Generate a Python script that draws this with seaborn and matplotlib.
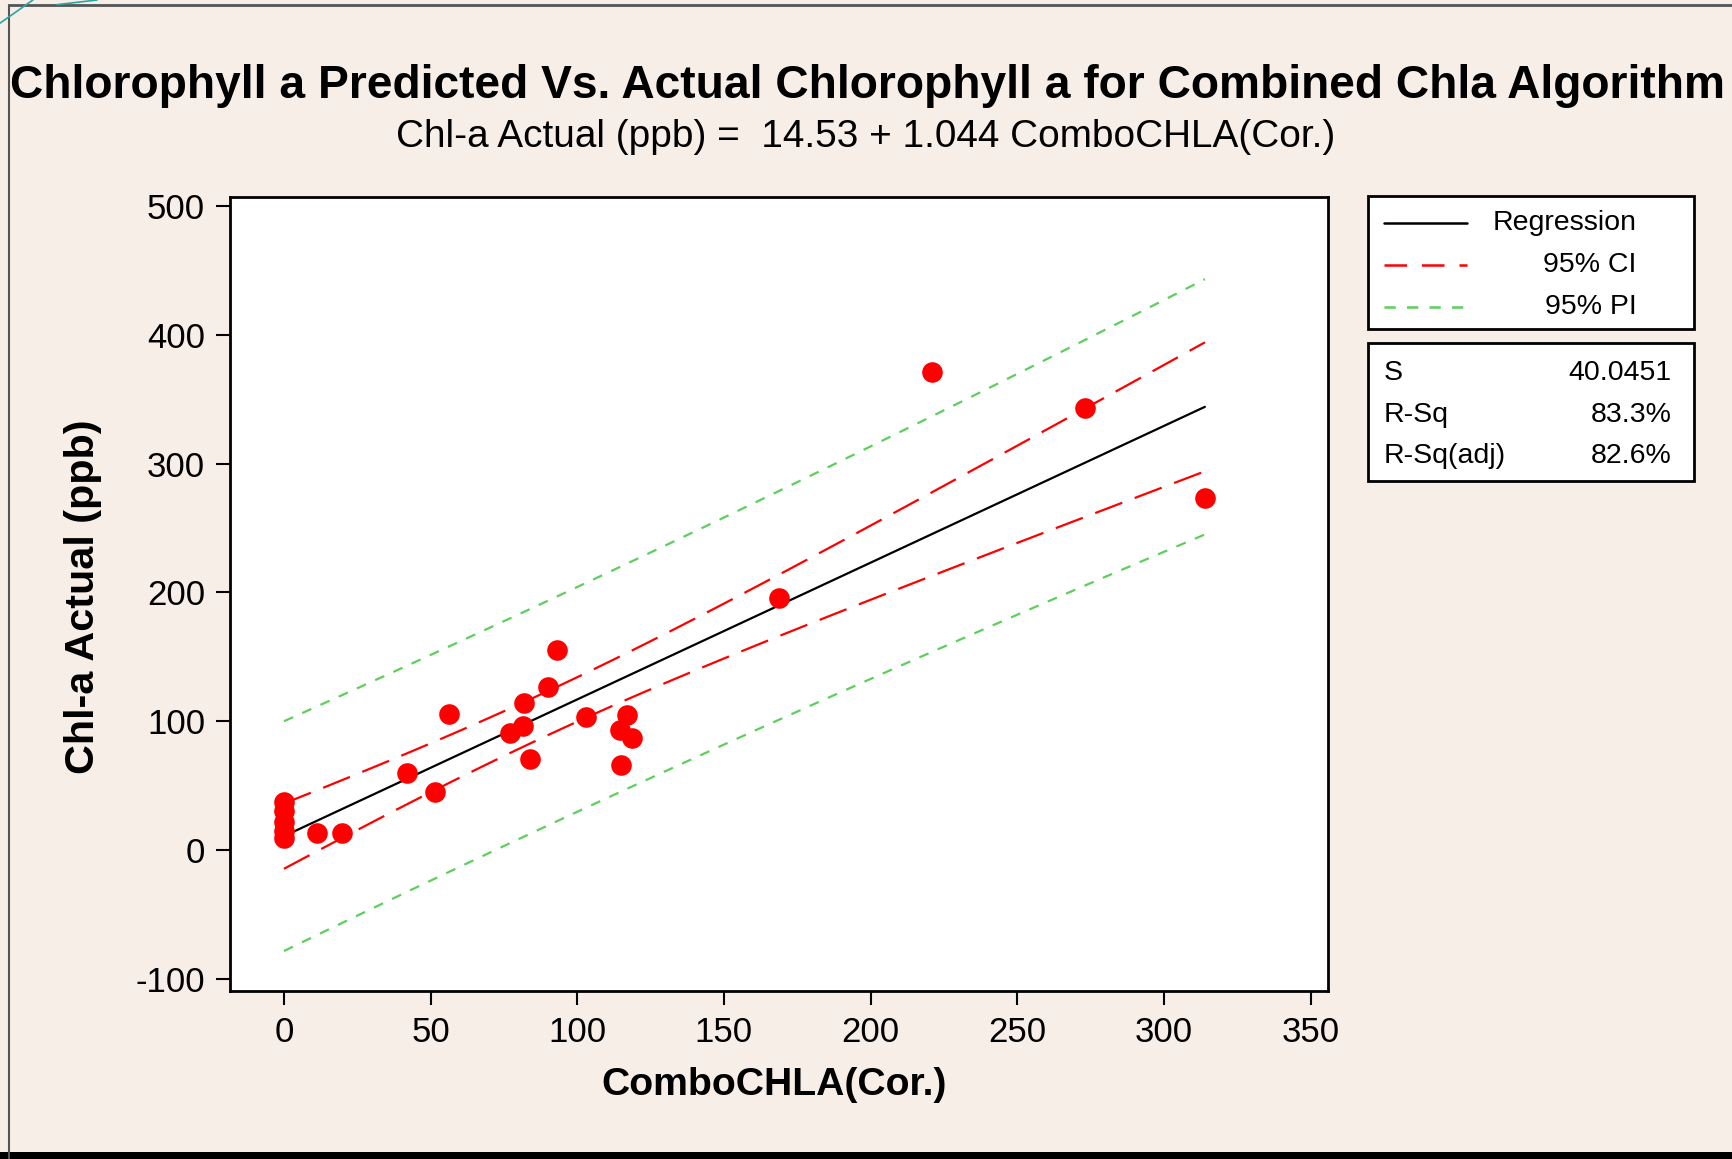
import numpy as np
import pandas as pd
import matplotlib.pyplot as plt
import seaborn as sns
from matplotlib.lines import Line2D
from matplotlib.patches import Rectangle

# points
combo_x = [0, 0, 0, 0, 0, 11.3, 19.8, 41.9, 51.5, 56.3, 77, 81.5, 82, 84, 90, 93,
           103, 114.5, 115, 117, 118.6, 168.8, 220.9, 273, 314]
chla_y = [37, 30, 22, 15, 9, 13, 13, 60, 45, 106, 91, 96, 114, 71, 127, 155,
          103, 93, 66, 105, 87, 196, 371, 343, 273]

legend_labels = ["Regression", "95% CI", "95% PI"]
stat_names = ["S", "R-Sq", "R-Sq(adj)"]
stat_values = ["40.0451", "83.3%", "82.6%"]

x_ticks = [0, 50, 100, 150, 200, 250, 300, 350]
y_ticks = [-100, 0, 100, 200, 300, 400, 500]

title = "Chlorophyll a Predicted Vs. Actual Chlorophyll a for Combined Chla Algorithm"
subtitle = "Chl-a Actual (ppb) =  14.53 + 1.044 ComboCHLA(Cor.)"

df = pd.DataFrame({"ComboCHLA": combo_x, "Actual": chla_y})

# least squares fit with 95% confidence / prediction bands
x = df["ComboCHLA"].to_numpy(float)
y = df["Actual"].to_numpy(float)
n = len(x)
b1, b0 = np.polyfit(x, y, 1)
s = np.sqrt(np.sum((y - (b0 + b1 * x)) ** 2) / (n - 2))
sxx = np.sum((x - x.mean()) ** 2)
t_crit = 2.069  # t(0.975, df=23)
xg = np.linspace(0, x.max(), 60)
yg = b0 + b1 * xg
se_fit = s * np.sqrt(1 / n + (xg - x.mean()) ** 2 / sxx)
se_pred = s * np.sqrt(1 + 1 / n + (xg - x.mean()) ** 2 / sxx)
bands = pd.DataFrame({"x": xg, "fit": yg,
                      "ci_lo": yg - t_crit * se_fit, "ci_hi": yg + t_crit * se_fit,
                      "pi_lo": yg - t_crit * se_pred, "pi_hi": yg + t_crit * se_pred})

sns.set_style("white")
plt.rcParams["font.family"] = ["Liberation Sans", "DejaVu Sans"]
plt.rcParams["axes.unicode_minus"] = False
plt.rcParams["text.color"] = "black"

bg = "#F8EEE8"
red = "#FF0000"
green = "#5CCF5C"
fig = plt.figure(figsize=(17.32, 11.59), dpi=100, facecolor=bg)
ax = fig.add_axes([0.1328, 0.1449, 0.634, 0.685])
ax.set_facecolor("white")

ci_style = (0, (13, 6))
pi_style = (0, (4.5, 4.5))
sns.lineplot(data=bands, x="x", y="pi_hi", ax=ax, color=green, lw=1.6, linestyle=pi_style)
sns.lineplot(data=bands, x="x", y="pi_lo", ax=ax, color=green, lw=1.6, linestyle=pi_style)
sns.lineplot(data=bands, x="x", y="ci_hi", ax=ax, color=red, lw=1.6, linestyle=ci_style)
sns.lineplot(data=bands, x="x", y="ci_lo", ax=ax, color=red, lw=1.6, linestyle=ci_style)
sns.lineplot(data=bands, x="x", y="fit", ax=ax, color="black", lw=1.6)
sns.scatterplot(data=df, x="ComboCHLA", y="Actual", ax=ax, color=red, s=220,
                linewidth=0, zorder=5)

ax.set_xlim(-18.4, 356)
ax.set_ylim(-109.5, 507)
ax.set_xticks(x_ticks)
ax.set_yticks(y_ticks)
ax.set_xlabel("")
ax.set_ylabel("")
ax.tick_params(bottom=True, left=True, direction="out", length=10, width=1.5,
               colors="black", labelcolor="black", labelsize=25, pad=8)
for sp in ax.spines.values():
    sp.set_color("black")
    sp.set_linewidth(2)

# titles and axis labels
t1 = fig.text(0.5006, 0.926, title, ha="center", va="center", fontsize=30, fontweight="bold",
              color="black")
t2 = fig.text(0.5, 0.882, subtitle, ha="center", va="center", fontsize=22, color="black")
xl = fig.text(0.447, 0.064, "ComboCHLA(Cor.)", ha="center", va="center", fontsize=28,
              fontweight="bold", color="black")
yl = fig.text(0.048, 0.485, "Chl-a Actual (ppb)", ha="center", va="center", fontsize=28,
              fontweight="bold", rotation=90, color="black")

fig.canvas.draw()
r = fig.canvas.get_renderer()
for txt, target, use_h in [(t1, 1717, False), (t2, 937, False), (xl, 345, False), (yl, 354, True)]:
    ext = txt.get_window_extent(r)
    cur = ext.height if use_h else ext.width
    txt.set_fontsize(txt.get_fontsize() * target / cur)

# legend box
fig.add_artist(Rectangle((0.790, 0.716), 0.188, 0.115, transform=fig.transFigure,
                         facecolor="white", edgecolor="black", lw=2))
rows = [1 - 202 * 1.105 / 1159, 1 - 240 * 1.105 / 1159, 1 - 278 * 1.105 / 1159]
styles = [("black", "-"), (red, (0, (9, 6))), (green, pi_style)]
for yy, lab, (c, ls) in zip(rows, legend_labels, styles):
    fig.add_artist(Line2D([0.799, 0.847], [yy, yy], transform=fig.transFigure,
                          color=c, lw=1.8, linestyle=ls))
    fig.text(0.945, yy, lab, ha="right", va="center", fontsize=20.5, color="black")

# stats box
fig.add_artist(Rectangle((0.790, 0.585), 0.188, 0.119, transform=fig.transFigure,
                         facecolor="white", edgecolor="black", lw=2))
srows = [1 - 338 * 1.105 / 1159, 1 - 376 * 1.105 / 1159, 1 - 413 * 1.105 / 1159]
for yy, nm, val in zip(srows, stat_names, stat_values):
    fig.text(0.799, yy, nm, ha="left", va="center", fontsize=20.5, color="black")
    fig.text(0.965, yy, val, ha="right", va="center", fontsize=20.5, color="black")

# window frame
fig.add_artist(Line2D([0.005, 1.0], [0.9955, 0.9955], transform=fig.transFigure, color="#555555", lw=2))
fig.add_artist(Line2D([0.005, 0.005], [0.0, 0.9955], transform=fig.transFigure, color="#555555", lw=1.5))
fig.add_artist(Rectangle((0, 0), 1, 0.006, transform=fig.transFigure, facecolor="black", edgecolor="none"))
fig.add_artist(Line2D([0.0, 0.019], [0.980, 1.0], transform=fig.transFigure, color="#2AA5A0", lw=1.2))
fig.add_artist(Line2D([0.033, 0.056], [0.996, 1.0], transform=fig.transFigure, color="#2AA5A0", lw=1.2))

fig.savefig("out.png", dpi=100, facecolor=bg)
